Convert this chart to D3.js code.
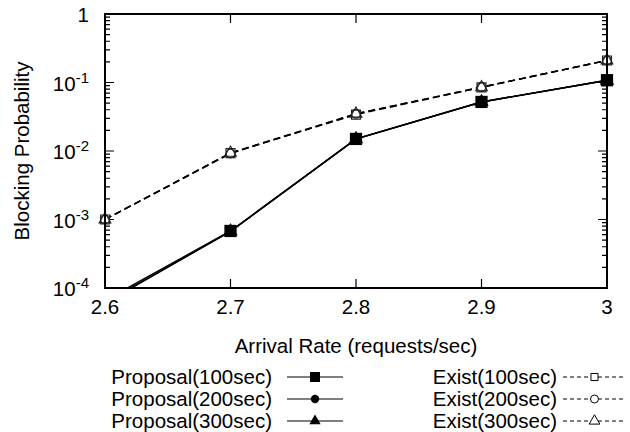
<!DOCTYPE html>
<html>
<head>
<meta charset="utf-8">
<script src="https://cdn.jsdelivr.net/npm/d3@7"></script>
<style>
  body { margin: 0; background: #fff; }
  svg { display: block; font-family: "Liberation Sans", Arial, sans-serif; }
</style>
</head>
<body>
<div class="d3-chart"></div>
<script>
const rates = [2.6, 2.7, 2.8, 2.9, 3.0];
const xTicks = [2.6, 2.7, 2.8, 2.9, 3.0];
const yTicks = [1e-4, 1e-3, 1e-2, 1e-1, 1];

const proposal100 = [6.6e-5, 6.8e-4, 0.0150, 0.052, 0.108];
const proposal200 = [6.0e-5, 6.7e-4, 0.0150, 0.052, 0.108];
const proposal300 = [6.2e-5, 6.7e-4, 0.0149, 0.052, 0.107];
const exist100 = [1.0e-3, 0.0093, 0.034, 0.085, 0.21];
const exist200 = [1.0e-3, 0.0092, 0.035, 0.086, 0.21];
const exist300 = [1.0e-3, 0.0094, 0.035, 0.085, 0.21];

const seriesNames = ["Proposal(100sec)", "Proposal(200sec)", "Proposal(300sec)",
  "Exist(100sec)", "Exist(200sec)", "Exist(300sec)"];

const series = [
  {name: seriesNames[0], values: proposal100, dashed: false, filled: true, shape: d3.symbolSquare},
  {name: seriesNames[1], values: proposal200, dashed: false, filled: true, shape: d3.symbolCircle},
  {name: seriesNames[2], values: proposal300, dashed: false, filled: true, shape: d3.symbolTriangle},
  {name: seriesNames[3], values: exist100, dashed: true, filled: false, shape: d3.symbolSquare},
  {name: seriesNames[4], values: exist200, dashed: true, filled: false, shape: d3.symbolCircle},
  {name: seriesNames[5], values: exist300, dashed: true, filled: false, shape: d3.symbolTriangle}
];

const width = 630, height = 432;
const margin = {top: 14, right: 23, bottom: 144, left: 105};
const fs = 20.5;

const svg = d3.select(".d3-chart")
  .append("svg")
  .attr("width", width)
  .attr("height", height);

const x = d3.scaleLinear().domain([2.6, 3.0]).range([margin.left, width - margin.right]);
const y = d3.scaleLog().domain([1e-4, 1]).range([height - margin.bottom, margin.top]);

const defs = svg.append("defs");
defs.append("clipPath").attr("id", "plot-clip")
  .append("rect")
  .attr("x", margin.left).attr("y", margin.top)
  .attr("width", x.range()[1] - margin.left)
  .attr("height", y.range()[0] - margin.top);
// points only hidden when they fall outside vertically
defs.append("clipPath").attr("id", "point-clip")
  .append("rect")
  .attr("x", 0).attr("y", margin.top - 10)
  .attr("width", width)
  .attr("height", y.range()[0] - margin.top + 10);

// ticks (inward, on all four sides)
const ticks = svg.append("g").attr("stroke", "#000").attr("stroke-width", 1.2);
const minor = [];
for (let e = -4; e < 0; e++) for (let m = 2; m <= 9; m++) minor.push(m * Math.pow(10, e));

ticks.selectAll(".ymaj").data(yTicks).join("path")
  .attr("d", d => `M${x(2.6)},${y(d)}h9M${x(3.0)},${y(d)}h-9`);
ticks.selectAll(".ymin").data(minor).join("path")
  .attr("d", d => `M${x(2.6)},${y(d)}h5M${x(3.0)},${y(d)}h-5`);
ticks.selectAll(".xmaj").data(xTicks).join("path")
  .attr("d", d => `M${x(d)},${y(1e-4)}v-9M${x(d)},${y(1)}v9`);

// tick labels
svg.append("g").attr("font-size", fs).attr("text-anchor", "middle")
  .selectAll("text").data(xTicks).join("text")
  .attr("x", d => x(d)).attr("y", 314)
  .text(d => d3.format("~g")(d));

const yl = svg.append("g").attr("font-size", fs).attr("text-anchor", "end")
  .selectAll("text").data(yTicks).join("text")
  .attr("x", 89).attr("y", d => y(d) + 8);
yl.filter(d => d === 1).text("1");
yl.filter(d => d !== 1).each(function(d) {
  const t = d3.select(this);
  t.append("tspan").text("10");
  t.append("tspan").attr("font-size", 15).attr("dy", -8).text(Math.round(Math.log10(d)));
});

// axis titles
svg.append("text").attr("font-size", fs).attr("text-anchor", "middle")
  .attr("transform", `translate(29,${(y(1) + y(1e-4)) / 2}) rotate(-90)`)
  .text("Blocking Probability");
svg.append("text").attr("font-size", fs).attr("text-anchor", "middle")
  .attr("x", (x(2.6) + x(3.0)) / 2).attr("y", 353)
  .text("Arrival Rate (requests/sec)");

// lines
const line = d3.line().x((d, i) => x(rates[i])).y(d => y(d));
const plot = svg.append("g").attr("clip-path", "url(#plot-clip)");

plot.selectAll(".series").data(series).join("path")
  .attr("fill", "none")
  .attr("stroke", "#000")
  .attr("stroke-width", 1.4)
  .attr("stroke-dasharray", d => d.dashed ? "7,4" : null)
  .attr("d", d => line(d.values));

function symbolSize(s) {
  if (s.filled) return s.shape === d3.symbolSquare ? 150 : 90;
  return s.shape === d3.symbolSquare ? 81 : 60;
}

const points = svg.append("g").attr("clip-path", "url(#point-clip)");
series.forEach(s => {
  points.append("g").selectAll("path").data(s.values).join("path")
    .attr("transform", (d, i) => `translate(${x(rates[i])},${y(d)})`)
    .attr("d", d3.symbol(s.shape, symbolSize(s)))
    .attr("fill", s.filled ? "#000" : (s.shape === d3.symbolSquare ? "#fff" : "none"))
    .attr("stroke", s.filled ? "none" : "#222")
    .attr("stroke-width", 1.1);
});

// frame
svg.append("rect")
  .attr("x", margin.left).attr("y", margin.top)
  .attr("width", x.range()[1] - margin.left)
  .attr("height", y.range()[0] - margin.top)
  .attr("fill", "none").attr("stroke", "#000").attr("stroke-width", 2);

// legend
const legendCols = [{textX: 272, x0: 287, x1: 343}, {textX: 557, x0: 563, x1: 626}];
const legendRows = [377, 399, 421];
series.forEach((s, i) => {
  const col = legendCols[Math.floor(i / 3)];
  const ry = legendRows[i % 3];
  const g = svg.append("g");
  g.append("text").attr("font-size", fs).attr("text-anchor", "end")
    .attr("x", col.textX).attr("y", ry + 7).text(s.name);
  g.append("path")
    .attr("d", `M${col.x0},${ry}H${col.x1}`)
    .attr("stroke", "#000").attr("stroke-width", 1.2)
    .attr("stroke-dasharray", s.dashed ? "4,3" : null);
  g.append("path")
    .attr("transform", `translate(${(col.x0 + col.x1) / 2},${ry})`)
    .attr("d", d3.symbol(s.shape, s.filled ? (s.shape === d3.symbolSquare ? 100 : 55) : 50))
    .attr("fill", s.filled ? "#000" : "#fff")
    .attr("stroke", s.filled ? "none" : "#000")
    .attr("stroke-width", 1);
});
</script>
</body>
</html>
